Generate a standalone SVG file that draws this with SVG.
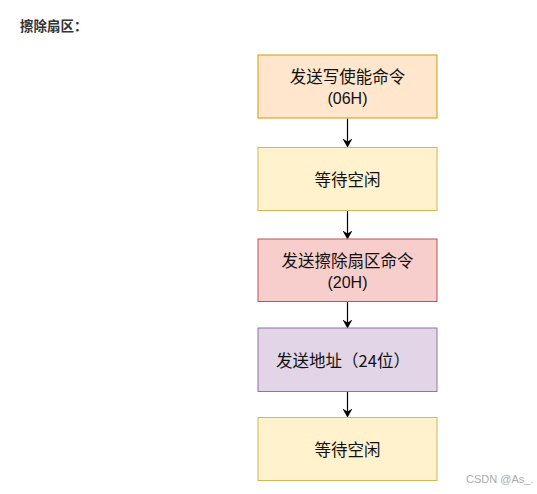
<svg xmlns="http://www.w3.org/2000/svg" width="537" height="494" viewBox="0 0 537 494">
<style>
.t{font-family:"Noto Sans CJK SC","Liberation Sans",sans-serif;font-size:16.5px;fill:#111;text-anchor:middle;dominant-baseline:central}
.l{font-family:"Liberation Sans",sans-serif;font-size:16px;fill:#111;text-anchor:middle;dominant-baseline:central}
.c{stroke:#000;stroke-width:1.2;fill:none}
</style>
<defs>
<marker id="ah" markerWidth="10" markerHeight="10" refX="8" refY="5" orient="auto" markerUnits="userSpaceOnUse">
<path d="M0,0 L9,5 L0,10 L3,5 Z" fill="#000"/>
</marker>
</defs>
<rect width="537" height="494" fill="#fff"/>
<text x="20" y="25" style="font-family:'Noto Sans CJK SC',sans-serif;font-size:13.5px;font-weight:bold;fill:#333;dominant-baseline:central">擦除扇区：</text>
<g id="connectors">
<line class="c" x1="347.5" y1="118.5" x2="347.5" y2="146.5" marker-end="url(#ah)"/>
<line class="c" x1="347.5" y1="210.5" x2="347.5" y2="238.5" marker-end="url(#ah)"/>
<line class="c" x1="347.5" y1="301.5" x2="347.5" y2="327.5" marker-end="url(#ah)"/>
<line class="c" x1="347.5" y1="391.5" x2="347.5" y2="416.5" marker-end="url(#ah)"/>
</g>
<g id="n1">
<rect x="258" y="55" width="179" height="63" fill="#ffe6cc" stroke="#d79b00"/>
<text class="t" x="347.5" y="76">发送写使能命令</text>
<text class="l" x="347.5" y="98">(06H)</text>
</g>
<g id="n2">
<rect x="258" y="147.5" width="179" height="63" fill="#fff2cc" stroke="#d6b656"/>
<text class="t" x="347.5" y="179">等待空闲</text>
</g>
<g id="n3">
<rect x="258" y="239" width="179" height="62.5" fill="#f8cecc" stroke="#b85450"/>
<text class="t" x="347.5" y="260">发送擦除扇区命令</text>
<text class="l" x="347.5" y="282">(20H)</text>
</g>
<g id="n4">
<rect x="258" y="328" width="179" height="63.5" fill="#e1d5e7" stroke="#9673a6"/>
<text class="t" x="343" y="360">发送地址（24位）</text>
</g>
<g id="n5">
<rect x="258" y="417.5" width="179" height="63" fill="#fff2cc" stroke="#d6b656"/>
<text class="t" x="347.5" y="449">等待空闲</text>
</g>
<text x="466" y="479" style="font-family:'Liberation Sans',sans-serif;font-size:11px;fill:#aaa;dominant-baseline:central">CSDN @As_.</text>
</svg>
